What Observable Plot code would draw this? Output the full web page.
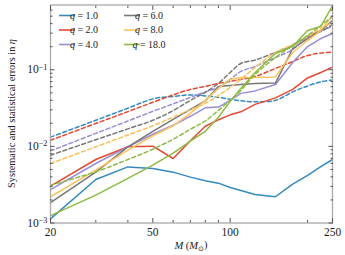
<!DOCTYPE html>
<html><head>
<meta charset="utf-8">
<script src="https://cdn.jsdelivr.net/npm/d3@7"></script>
<script src="https://cdn.jsdelivr.net/npm/@observablehq/plot@0.6"></script>
<style>
body{margin:0;background:#fff}
svg{font-family:"Liberation Serif","Times New Roman",serif}
</style>
</head><body><div id="chart"></div>
<script>
// ---- data ----
const mass = [20,30,40,50,60,70,80,90,100,110,125,150,175,200,225,250];
const qLabels = ["1.0","2.0","4.0","6.0","8.0","18.0"];
const colors = ["#348ABD","#E24A33","#988ED5","#777777","#FBC15E","#8EBA42"];

const sysQ1  = [0.00113,0.0037,0.0054,0.00515,0.00461,0.00397,0.00357,0.00331,0.00291,0.00266,0.00236,0.0022,0.00322,0.00419,0.00543,0.00674];
const statQ1 = [0.0132,0.0219,0.0315,0.0417,0.0449,0.047,0.0456,0.0436,0.0411,0.0393,0.0381,0.0399,0.0514,0.0615,0.0694,0.0737];
const sysQ2  = [0.00303,0.00674,0.0099,0.01005,0.00695,0.01184,0.01829,0.02222,0.0258,0.02824,0.03535,0.04295,0.05542,0.07819,0.09224,0.1081];
const statQ2 = [0.012,0.0199,0.0284,0.0376,0.047,0.0554,0.0606,0.0663,0.0704,0.0748,0.0818,0.104,0.128,0.1535,0.1654,0.1694];
const sysQ4  = [0.00273,0.00598,0.00984,0.01439,0.01884,0.0247,0.03185,0.0326,0.03986,0.04916,0.05298,0.06436,0.1245,0.201,0.2555,0.2968];
const statQ4 = [0.00873,0.01478,0.02144,0.02867,0.03589,0.0436,0.05142,0.05883,0.07478,0.09504,0.1104,0.1446,0.1836,0.2713,0.3246,0.3661];
const sysQ6  = [0.00184,0.00461,0.00984,0.01574,0.02256,0.03045,0.03926,0.06062,0.06247,0.06436,0.06632,0.06692,0.1893,0.2555,0.3246,0.4381];
const statQ6 = [0.00767,0.0122,0.01692,0.02189,0.02928,0.03986,0.05065,0.06632,0.09224,0.1208,0.1341,0.1679,0.2072,0.2713,0.315,0.3886];
const sysQ8  = [0.0022,0.00489,0.00891,0.01376,0.01856,0.027,0.03986,0.05711,0.07478,0.07939,0.07939,0.08057,0.1679,0.2406,0.3246,0.5088];
const statQ8 = [0.00598,0.00987,0.01409,0.01856,0.02409,0.02999,0.03643,0.04631,0.05883,0.07478,0.1071,0.1679,0.2134,0.2713,0.3447,0.4125];
const sysQ18 = [0.00125,0.00231,0.00382,0.00568,0.00815,0.01167,0.01574,0.02395,0.03869,0.05711,0.09224,0.163,0.201,0.3246,0.3661,0.6866];
const statQ18= [0.00312,0.00465,0.00674,0.00918,0.01239,0.01672,0.02144,0.02954,0.03986,0.05376,0.08685,0.1446,0.2072,0.2795,0.3771,0.4939];

const xMajor = [20,50,100,250];
const xMinor = [30,40,60,70,80,90,200];
const yMajor = [0.001,0.01,0.1];
const yMinor = [0.002,0.003,0.004,0.005,0.006,0.007,0.008,0.009,0.02,0.03,0.04,0.05,0.06,0.07,0.08,0.09,0.2,0.3,0.4,0.5,0.6];

// ---- build tables ----
const sysAll = [sysQ1,sysQ2,sysQ4,sysQ6,sysQ8,sysQ18];
const statAll = [statQ1,statQ2,statQ4,statQ6,statQ8,statQ18];
const rows = (arrs, kind) => arrs.flatMap((a,i)=>a.map((v,j)=>({M:mass[j], v, q:qLabels[i], kind})));
const sysRows = rows(sysAll,"sys");
const statRows = rows(statAll,"stat");

const lineMarks = [];
qLabels.forEach(q=>{
  lineMarks.push(Plot.line(sysRows.filter(d=>d.q===q), {x:"M", y:"v", stroke:"q", strokeWidth:1.5}));
  lineMarks.push(Plot.line(statRows.filter(d=>d.q===q), {x:"M", y:"v", stroke:"q", strokeWidth:1.5, strokeDasharray:"4,2.6", curve:"catmull-rom"}));
});

const tickColor = "#555";
const plot = Plot.plot({
  width: 345, height: 255,
  marginLeft: 50, marginRight: 13, marginTop: 4.5, marginBottom: 32.5,
  style: {fontFamily:'"Liberation Serif", serif', fontSize:"11.5px", color:"#222", background:"#fff"},
  x: {type:"log", domain:[20,250]},
  y: {type:"log", domain:[0.001,0.7]},
  color: {domain:qLabels, range:colors},
  marks: [
    ...lineMarks,
    Plot.frame({stroke:"#aaaaaa", strokeWidth:1.3}),
    // bottom / top ticks
    Plot.axisX(xMajor, {anchor:"bottom", tickSize:-4.5, fill:"none", stroke:tickColor, label:null}),
    Plot.axisX(xMinor, {anchor:"bottom", tickSize:-2.5, fill:"none", stroke:tickColor, label:null}),
    Plot.axisX(xMajor, {anchor:"top", tickSize:-4.5, fill:"none", stroke:tickColor, label:null}),
    Plot.axisX(xMinor, {anchor:"top", tickSize:-2.5, fill:"none", stroke:tickColor, label:null}),
    Plot.text(xMajor, {x:d=>d, text:d=>String(d), frameAnchor:"bottom", lineAnchor:"top", dy:4.5, fill:"#222", fontSize:11.5}),
    // left / right ticks
    Plot.axisY(yMajor, {anchor:"left", tickSize:-4.5, fill:"none", stroke:tickColor, label:null}),
    Plot.axisY(yMinor, {anchor:"left", tickSize:-2.5, fill:"none", stroke:tickColor, label:null}),
    Plot.axisY(yMajor, {anchor:"right", tickSize:-4.5, fill:"none", stroke:tickColor, label:null}),
    Plot.axisY(yMinor, {anchor:"right", tickSize:-2.5, fill:"none", stroke:tickColor, label:null}),
    Plot.axisY(yMajor, {anchor:"left", tickSize:0, tickPadding:3, tickFormat:d=>"10^"+Math.round(Math.log10(d)), label:null})
  ]
});
document.getElementById("chart").appendChild(plot);

// ---- superscript exponents on y tick labels ----
const svg = d3.select(plot);
svg.selectAll("text").each(function(){
  const s = d3.select(this);
  const t = s.text();
  const m = /^10\^(-?\d+)$/.exec(t);
  if (m) {
    s.text(null);
    s.append("tspan").text("10");
    s.append("tspan").attr("dy","-0.45em").attr("font-size","0.72em").text(m[1].replace("-","\u2212"));
  }
});

// ---- axis titles ----
const xl = svg.append("text").attr("x",191).attr("y",248.5).attr("text-anchor","middle")
  .attr("font-size","10.5px").attr("fill","#222");
xl.append("tspan").attr("font-style","italic").text("M");
xl.append("tspan").text(" (");
xl.append("tspan").attr("font-style","italic").text("M");
xl.append("tspan").attr("font-size","0.7em").attr("dy","0.3em").text("\u2299");
xl.append("tspan").attr("dy","-0.3em").text(")");

const yl = svg.append("text").attr("transform","translate(15,113.5) rotate(-90)").attr("text-anchor","middle")
  .attr("font-size","10.3px").attr("fill","#222");
yl.append("tspan").text("Systematic and statistical errors in ");
yl.append("tspan").attr("font-style","italic").text("\u03B7");

// ---- legend ----
const leg = svg.append("g").attr("font-size","10px").attr("fill","#222");
qLabels.forEach((q,i)=>{
  const col = Math.floor(i/3), row = i%3;
  const x0 = col ? 124 : 59, y0 = 15.5 + row*14.5;
  leg.append("line").attr("x1",x0).attr("x2",x0+16).attr("y1",y0).attr("y2",y0)
     .attr("stroke",colors[i]).attr("stroke-width",1.6);
  const t = leg.append("text").attr("x",x0+25).attr("y",y0+3.4);
  t.append("tspan").attr("font-style","italic").text("q");
  t.append("tspan").text(" = "+q);
});
</script>
</body></html>
